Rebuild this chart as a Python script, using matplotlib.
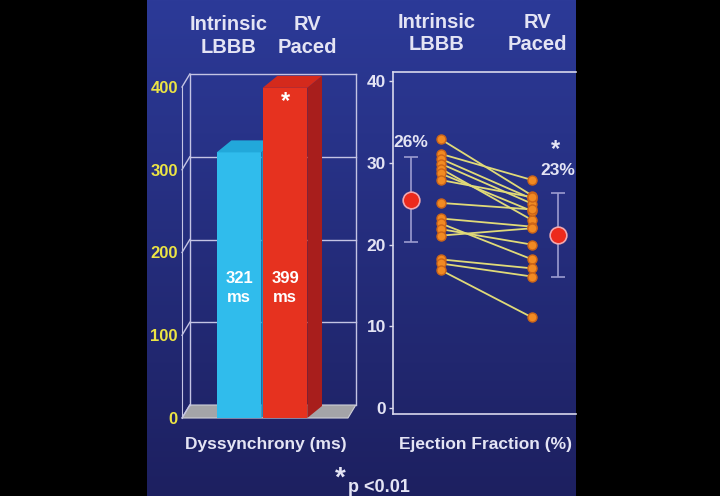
import matplotlib
matplotlib.use('Agg')
import matplotlib.pyplot as plt
import numpy as np
from matplotlib.patches import Polygon

plt.rcParams['font.family'] = ['Liberation Sans', 'DejaVu Sans']
plt.rcParams['font.weight'] = 'bold'

W, H = 720, 496

# left chart: dyssynchrony (ms)
groups = ['Intrinsic\nLBBB', 'RV\nPaced']
dys_values = [321, 399]
dys_labels = ['321\nms', '399\nms']
dys_ticks = [0, 100, 200, 300, 400]

# right chart: ejection fraction (%) per patient
ef_lbbb = [32.9, 31.1, 30.5, 29.9, 29.3, 28.7, 27.9, 25.1, 23.2, 22.6, 21.9, 21.1, 18.2, 17.7, 16.9]
ef_paced = [26.0, 27.9, 25.6, 25.0, 23.0, 24.1, 25.8, 24.3, 22.2, 18.2, 20.0, 22.0, 17.1, 16.1, 11.1]
ef_mean = [25.5, 21.2]
ef_sd = [5.2, 5.1]
ef_mean_labels = ['26%', '23%']
ef_ticks = [0, 10, 20, 30, 40]

TXT = '#e4e4f4'
LINE = '#c4c4e4'
CYAN = '#30bcec'
RED = '#e6321f'


def px_box(x0, y0, x1, y1):
    return [x0 / W, 1 - y1 / H, (x1 - x0) / W, (y1 - y0) / H]


def ftext(x, y, s, **kw):
    fig.text(x / W, 1 - y / H, s, ha='center', va='center', color=TXT,
             fontweight='bold', **kw)


fig = plt.figure(figsize=(W / 100, H / 100), dpi=100, facecolor='black')

# blue slide panel
bg = fig.add_axes(px_box(147, 0, 576, 496))
grad = np.linspace(0, 1, 256).reshape(-1, 1)
top = np.array([0x2c, 0x3a, 0x98]) / 255
bot = np.array([0x1d, 0x20, 0x60]) / 255
img = top[None, None, :] * (1 - grad[:, :, None]) + bot[None, None, :] * grad[:, :, None]
bg.imshow(img, aspect='auto', extent=[0, 1, 0, 1])
bg.axis('off')

# ---- left: pseudo 3D bar chart ----
ax = fig.add_axes(px_box(182, 87, 348, 418))
ax.set_facecolor('none')
x0, x1 = -1.24, 2.37
ax.set_xlim(x0, x1)
ax.set_ylim(0, 400)
wdx, wdy = 0.17, 15.7   # wall depth
bdx, bdy = 0.32, 14.5   # bar depth

floor = Polygon([(x0, 0), (x1, 0), (x1 + wdx, wdy), (x0 + wdx, wdy)],
                closed=True, facecolor='#a4a4a8', edgecolor='#d0d0d8', lw=0.8,
                clip_on=False, zorder=1)
ax.add_patch(floor)
kw = dict(color=LINE, lw=1, clip_on=False, zorder=1)
ax.plot([x0 + wdx, x0 + wdx], [wdy, 400 + wdy], **kw)
ax.plot([x1 + wdx, x1 + wdx], [wdy, 400 + wdy], **kw)
for t in dys_ticks[1:]:
    ax.plot([x0 + wdx, x1 + wdx], [t + wdy, t + wdy], **kw)
for t in dys_ticks:
    ax.plot([x0, x0 + wdx], [t, t + wdy], **kw)

xs = np.arange(len(dys_values))
bw = 0.97
bars = ax.bar(xs, dys_values, width=bw, color=[CYAN, RED], zorder=3)
tops = ['#22a8da', '#d42a1c']
sides = ['#1c8ec0', '#a81e1c']
for i, (x, h) in enumerate(zip(xs, dys_values)):
    l, r = x - bw / 2, x + bw / 2
    z = 2 + 2 * i
    ax.add_patch(Polygon([(l, h), (r, h), (r + bdx, h + bdy), (l + bdx, h + bdy)],
                         closed=True, facecolor=tops[i], edgecolor='none',
                         clip_on=False, zorder=z + 1))
    ax.add_patch(Polygon([(r, 0), (r, h), (r + bdx, h + bdy), (r + bdx, bdy)],
                         closed=True, facecolor=sides[i], edgecolor='none',
                         clip_on=False, zorder=z))
    bars[i].set_zorder(z + 1)
    ax.text(x, 157, dys_labels[i], ha='center', va='center', color='white',
            fontsize=12, fontweight='bold', linespacing=1.4, zorder=10)
ax.text(xs[1], 383, '*', ha='center', va='center', color='white',
        fontsize=17, fontweight='bold', zorder=10)

for s in ['top', 'right', 'bottom']:
    ax.spines[s].set_visible(False)
ax.spines['left'].set_color(LINE)
ax.set_xticks([])
ax.set_yticks(dys_ticks)
ax.set_yticklabels([str(t) for t in dys_ticks])
ax.tick_params(axis='y', length=0, pad=3, labelsize=12, labelcolor='#ece444')
for lb in ax.get_yticklabels():
    lb.set_fontweight('bold')

# ---- right: ejection fraction ----
ax2 = fig.add_axes(px_box(393, 72, 576, 414))
ax2.set_facecolor('none')
ax2.set_xlim(0.48, 2.48)
ax2.set_ylim(-0.7, 41.1)
for a, b in zip(ef_lbbb, ef_paced):
    ax2.plot([1, 2], [a, b], color='#e0da78', lw=1.3, zorder=2)
ax2.plot([1] * len(ef_lbbb), ef_lbbb, 'o', ms=6.5, mfc='#f28a22', mec='#cc6418',
         mew=1, zorder=3)
ax2.plot([2] * len(ef_paced), ef_paced, 'o', ms=6.5, mfc='#f28a22', mec='#cc6418',
         mew=1, zorder=3)
mx = [0.68, 2.285]
ax2.errorbar(mx, ef_mean, yerr=ef_sd, fmt='none', ecolor='#9c9cd0', elinewidth=1.2,
             capsize=5, capthick=1.2, zorder=2)
ax2.plot(mx, ef_mean, 'o', ms=12, mfc='#ec2a1c', mec='#f0a8b0', mew=1.2, zorder=3)
ax2.text(mx[0], 32.5, ef_mean_labels[0], ha='center', va='center', color=TXT,
         fontsize=12.5, fontweight='bold')
ax2.text(mx[1], 29.1, ef_mean_labels[1], ha='center', va='center', color=TXT,
         fontsize=12.5, fontweight='bold')
ax2.text(mx[1] - 0.03, 31.6, '*', ha='center', va='center', color=TXT,
         fontsize=17, fontweight='bold')

ax2.spines['right'].set_visible(False)
for s in ['left', 'top', 'bottom']:
    ax2.spines[s].set_color('#d8d8ec')
    ax2.spines[s].set_linewidth(1.2)
ax2.set_xticks([])
ax2.set_yticks(ef_ticks)
ax2.set_yticklabels([str(t) for t in ef_ticks])
ax2.tick_params(axis='y', length=3, width=1, color='#d8d8ec', pad=2,
                labelsize=12.5, labelcolor=TXT)
for lb in ax2.get_yticklabels():
    lb.set_fontweight('bold')

# ---- headers and captions ----
ftext(229, 36, groups[0], fontsize=14.5, linespacing=1.25)
ftext(307, 36, groups[1], fontsize=14.5, linespacing=1.25)
ftext(437, 33, groups[0], fontsize=14.5, linespacing=1.2)
ftext(537, 33, groups[1], fontsize=14.5, linespacing=1.2)
ftext(266, 445, 'Dyssynchrony (ms)', fontsize=12.5)
ftext(485, 445, 'Ejection Fraction (%)', fontsize=12.5)
ftext(340, 479, '*', fontsize=20)
ftext(379, 488, 'p <0.01', fontsize=13)

fig.savefig('out.png', dpi=100, facecolor=fig.get_facecolor())
